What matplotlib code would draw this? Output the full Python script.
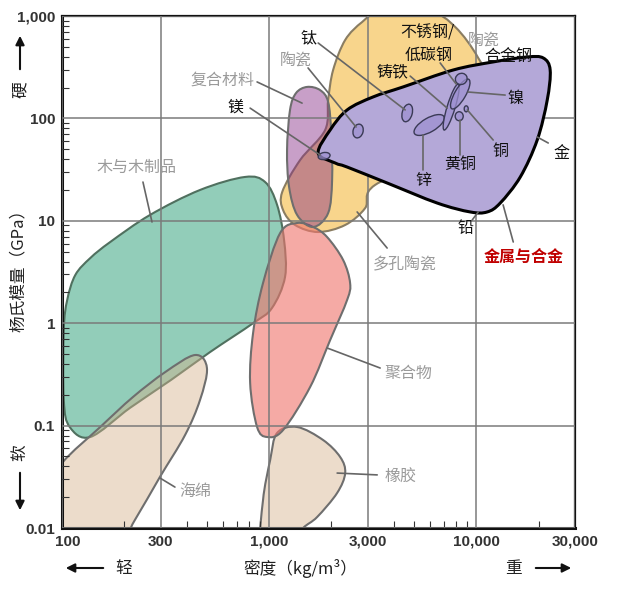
import numpy as np
import matplotlib
matplotlib.use("Agg")
import matplotlib.pyplot as plt
import matplotlib.transforms as mtransforms
from matplotlib.path import Path
from matplotlib.patches import PathPatch, Ellipse
from matplotlib.ticker import LogLocator, NullFormatter

plt.rcParams['font.family'] = ['Noto Sans CJK SC', 'DejaVu Sans']

# ---- dados: contornos das famílias (densidade kg/m3, módulo GPa) ----
woods_density = [765, 957, 1093, 1181, 1194, 1033, 837, 519, 336, 213, 137, 109, 102, 102, 106, 116, 137, 171, 266, 464]
woods_modulus = [26.8, 23.9, 14.3, 6.5, 2.83, 1.41, 1.0, 0.523, 0.279, 0.149, 0.0774, 0.0969, 0.178, 0.859, 1.69, 2.96, 4.33, 6.21, 11.4, 20.0]

foam_density = [439, 501, 464, 393, 297, 225, 180, 98, 78, 100, 153, 220, 315]
foam_modulus = [0.489, 0.365, 0.178, 0.081, 0.0315, 0.012, 0.0061, 0.00486, 0.0188, 0.0431, 0.0969, 0.19, 0.333]

poly_density = [1366, 1632, 1905, 2278, 2461, 2382, 1972, 1578, 1169, 978, 875, 810, 837, 935, 1131]
poly_modulus = [9.52, 8.70, 6.95, 4.14, 2.47, 1.69, 0.685, 0.238, 0.0906, 0.0774, 0.0969, 0.261, 0.802, 2.47, 7.60]

rubber_density = [1366, 1823, 2205, 2330, 2131, 1706, 1460, 1262, 925, 935, 1012, 1093]
rubber_modulus = [0.0969, 0.0723, 0.0493, 0.0344, 0.022, 0.0128, 0.01, 0.00682, 0.00682, 0.0188, 0.0461, 0.0847]

comp_density = [1527, 1763, 1928, 1995, 2015, 1928, 1632, 1366, 1249, 1221, 1262, 1350]
comp_modulus = [203, 189, 145, 72.0, 25.0, 11.9, 8.70, 11.4, 21.4, 49.1, 121, 177]

cer_density = [3438, 5999, 7925, 10230, 11690, 7482, 3251, 2909, 2330, 1726, 1335, 1169, 1157, 1412, 1865, 1928, 2038, 2330, 2813]
cer_modulus = [1094, 1094, 781, 389, 189, 49.1, 22.4, 13.3, 9.10, 7.77, 9.10, 12.7, 19.1, 39.2, 77.1, 151, 297, 583, 873]

met_density = [1726, 1972, 2382, 3178, 4440, 7746, 12080, 17630, 21080, 22760, 22030, 19710, 16330, 13060, 11300, 9360, 6486, 3715, 2382, 2084]
met_modulus = [45.9, 77.1, 121, 162, 203, 297, 356, 398, 389, 297, 151, 61.5, 26.8, 14.9, 12.2, 12.2, 14.9, 23.4, 33.5, 36.7]

# metais individuais (centro)
alloy_names = ['镁', '?', '钛', '锌', '铸铁', '镍', '钢', '黄铜', '铜']
alloy_density = [1844, 2690, 4645, 5927, 7570, 8375, 8470, 8280, 8950]
alloy_modulus = [42.9, 75.3, 113, 86.2, 129, 173, 243, 105, 124]

# rótulos: texto, posição, início e fim da linha de chamada
labels = [
    ('钛', 1542, 610, 'k', (1726, 545), (4540, 121)),
    ('陶瓷', 1350, 372, 'g', (1542, 311), (2630, 82.4)),
    ('复合材料', 593, 237, 'g', (875, 227), (1443, 141)),
    ('镁', 685, 129, 'k', (810, 126), (1763, 43.9)),
    ('木与木制品', 230, 33.5, 'g', (246, 23.9), (272, 9.73)),
    ('不锈钢/', 5794, 682, 'k', None, None),
    ('低碳钢', 5861, 416, 'k', (6700, 348), (8000, 217)),
    ('陶瓷', 10940, 583, 'g', None, None),
    ('合金钢', 14290, 398, 'k', None, None),
    ('铸铁', 3927, 284, 'k', (4800, 259), (7244, 126)),
    ('镍', 15420, 158, 'k', (13800, 169), (9140, 181)),
    ('铜', 13060, 47.0, 'k', (12080, 61.5), (9060, 121)),
    ('黄铜', 8375, 35.1, 'k', (8375, 43.9), (8375, 96.4)),
    ('锌', 5546, 25.0, 'k', (5546, 31.3), (5546, 68.9)),
    ('金', 25760, 45.9, 'k', (22280, 57.5), (19710, 65.8)),
    ('铅', 8850, 8.32, 'k', (9570, 10.2), (10230, 12.2)),
    ('金属与合金', 16870, 4.43, 'r', (15100, 6.21), (13490, 14.3)),
    ('多孔陶瓷', 4540, 3.70, 'g', (3715, 5.42), (2662, 12.2)),
    ('聚合物', 4690, 0.326, 'g', (3438, 0.365), (1905, 0.573)),
    ('橡胶', 4295, 0.0315, 'g', (3327, 0.033), (2131, 0.0344)),
    ('海绵', 439, 0.0225, 'g', (351, 0.0251), (297, 0.0308)),
]

x_ticks = [100, 300, 1000, 3000, 10000, 30000]
x_tick_labels = ['100', '300', '1,000', '3,000', '10,000', '30,000']
y_ticks = [0.01, 0.1, 1, 10, 100, 1000]
y_tick_labels = ['0.01', '0.1', '1', '10', '100', '1,000']


def blob(dens, mod):
    # contorno fechado suave (Catmull-Rom em espaço log)
    pts = np.column_stack([np.log10(dens), np.log10(mod)])
    n = len(pts)
    verts = [pts[0]]
    codes = [Path.MOVETO]
    for i in range(n):
        p0, p1, p2, p3 = pts[i - 1], pts[i], pts[(i + 1) % n], pts[(i + 2) % n]
        verts += [p1 + (p2 - p0) / 6, p2 - (p3 - p1) / 6, p2]
        codes += [Path.CURVE4] * 3
    verts.append(pts[0])
    codes.append(Path.CLOSEPOLY)
    return Path(10 ** np.array(verts), codes)


fig = plt.figure(figsize=(6.4, 5.9), dpi=100)
ax = fig.add_axes([62 / 640, 1 - 528 / 590, 513 / 640, 512 / 590])
ax.set_xscale('log')
ax.set_yscale('log')

edge = '#6e6e6e'
shapes = [
    (woods_density, woods_modulus, (0.573, 0.804, 0.725, 1.0), '#50705f', 1.0),
    (foam_density, foam_modulus, (0.835, 0.698, 0.549, 0.45), edge, 1.1),
    (rubber_density, rubber_modulus, (0.925, 0.863, 0.796, 1.0), edge, 1.1),
    (poly_density, poly_modulus, (0.937, 0.463, 0.431, 0.62), edge, 1.2),
    (cer_density, cer_modulus, (0.973, 0.835, 0.549, 1.0), '#8a7d62', 1.15),
    (comp_density, comp_modulus, (0.52, 0.17, 0.52, 0.45), edge, 1.3),
]
for d, m, fc, ec, z in shapes:
    ax.add_patch(PathPatch(blob(d, m), facecolor=fc, edgecolor=ec, lw=1.5, zorder=z))

ax.add_patch(PathPatch(blob(met_density, met_modulus), facecolor='#b4a8d8',
                       edgecolor='black', lw=2.2, zorder=2.6))

# elipses dos metais (tamanho em pixels)
ell_w = [12, 10, 10, 34, 48, 34, 12, 8, 4]
ell_h = [7, 14, 18, 14, 8, 11, 11, 9, 6]
ell_ang = [10, -15, -15, 30, 73, 60, 30, 0, 0]
for d, m, w, h, a in zip(alloy_density, alloy_modulus, ell_w, ell_h, ell_ang):
    tr = mtransforms.ScaledTranslation(d, m, ax.transData)
    ax.add_patch(Ellipse((0, 0), w, h, angle=a, transform=tr,
                         facecolor=(0.62, 0.57, 0.82, 0.75), edgecolor='#3a3a55', lw=1.0, zorder=2.7))

colors = {'k': '#111111', 'g': '#9a9a9a', 'r': '#c00000'}
for txt, x, y, c, p0, p1 in labels:
    if p0 is not None:
        ax.plot([p0[0], p1[0]], [p0[1], p1[1]], color='#666666', lw=1.2, zorder=3,
                solid_capstyle='round')
    ax.text(x, y, txt, color=colors[c], fontsize=11.5, ha='center', va='center',
            fontweight='bold' if c == 'r' else 'normal', zorder=4)

ax.set_xlim(100, 30000)
ax.set_ylim(0.01, 1000)
ax.set_axisbelow(False)
ax.grid(True, which='major', color='#7a7a7a', lw=1.1)

ax.set_xticks(x_ticks)
ax.set_xticklabels(x_tick_labels, fontfamily='Liberation Sans', fontweight='bold', fontsize=11, color='#333333')
ax.set_yticks(y_ticks)
ax.set_yticklabels(y_tick_labels, fontfamily='Liberation Sans', fontweight='bold', fontsize=11, color='#333333')
ax.xaxis.set_minor_locator(LogLocator(base=10, subs=range(2, 10)))
ax.yaxis.set_minor_locator(LogLocator(base=10, subs=range(2, 10)))
ax.xaxis.set_minor_formatter(NullFormatter())
ax.yaxis.set_minor_formatter(NullFormatter())
ax.tick_params(which='major', length=0, pad=5)
ax.tick_params(which='minor', direction='in', length=5, width=0.8, color='#333333')
# o primeiro rótulo do eixo x fica um pouco à direita
first = ax.get_xticklabels()[0]
first.set_transform(first.get_transform() + mtransforms.ScaledTranslation(6 / 100, 0, fig.dpi_scale_trans))

for s in ['left', 'bottom']:
    ax.spines[s].set_linewidth(2.2)
for s in ['top', 'right']:
    ax.spines[s].set_linewidth(1.6)
for s in ax.spines.values():
    s.set_color('#111111')

# títulos dos eixos e setas
fig.text(18 / 640, 1 - 266 / 590, '杨氏模量（GPa）', rotation=90, ha='center', va='center', fontsize=12, color='#222222')
fig.text(300 / 640, 1 - 568 / 590, '密度（kg/m³）', ha='center', va='center', fontsize=12, color='#222222')
fig.text(20 / 640, 1 - 90 / 590, '硬', rotation=90, ha='center', va='center', fontsize=12, color='#222222')
fig.text(20 / 640, 1 - 453 / 590, '软', rotation=90, ha='center', va='center', fontsize=12, color='#222222')
fig.text(124 / 640, 1 - 568 / 590, '轻', ha='center', va='center', fontsize=12, color='#222222')
fig.text(513 / 640, 1 - 568 / 590, '重', ha='center', va='center', fontsize=12, color='#222222')

arrow = dict(arrowstyle='-|>', color='#111111', lw=1.5, mutation_scale=13)
ax.annotate('', xy=(20, 590 - 33), xytext=(20, 590 - 72), xycoords='figure pixels', arrowprops=arrow)
ax.annotate('', xy=(20, 590 - 513), xytext=(20, 590 - 470), xycoords='figure pixels', arrowprops=arrow)
ax.annotate('', xy=(63, 590 - 568), xytext=(106, 590 - 568), xycoords='figure pixels', arrowprops=arrow)
ax.annotate('', xy=(574, 590 - 568), xytext=(533, 590 - 568), xycoords='figure pixels', arrowprops=arrow)

fig.savefig('out.png', dpi=100)
